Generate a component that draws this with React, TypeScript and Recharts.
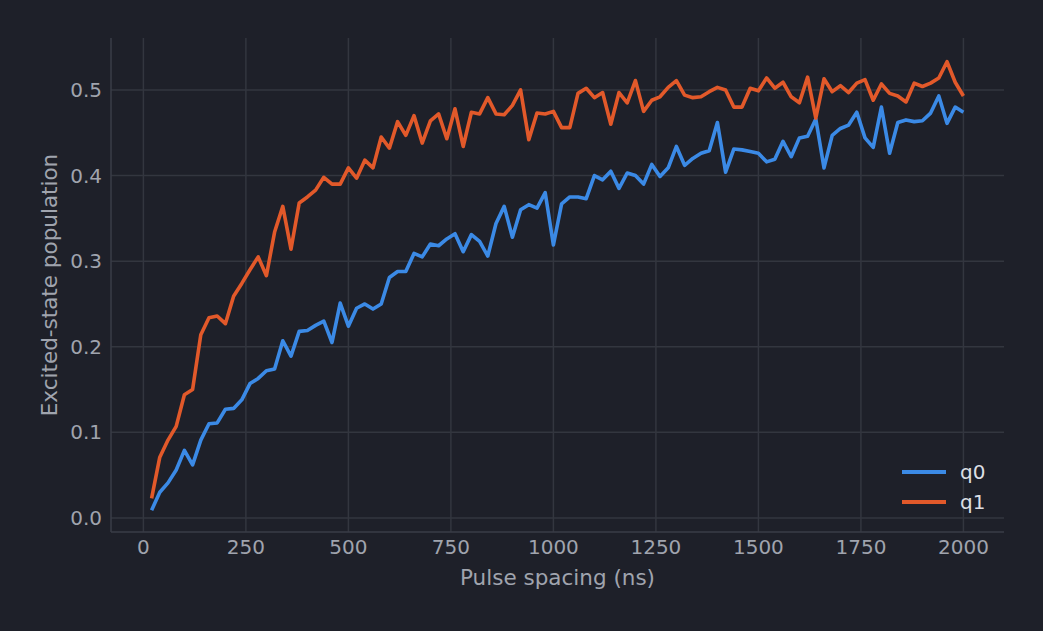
import React from 'react';
import { LineChart, Line, XAxis, YAxis, CartesianGrid, Legend, Label } from 'recharts';

const xValues = [
  20, 40, 60, 80, 100, 120, 140, 160, 180, 200,
  220, 240, 260, 280, 300, 320, 340, 360, 380, 400,
  420, 440, 460, 480, 500, 520, 540, 560, 580, 600,
  620, 640, 660, 680, 700, 720, 740, 760, 780, 800,
  820, 840, 860, 880, 900, 920, 940, 960, 980, 1000,
  1020, 1040, 1060, 1080, 1100, 1120, 1140, 1160, 1180, 1200,
  1220, 1240, 1260, 1280, 1300, 1320, 1340, 1360, 1380, 1400,
  1420, 1440, 1460, 1480, 1500, 1520, 1540, 1560, 1580, 1600,
  1620, 1640, 1660, 1680, 1700, 1720, 1740, 1760, 1780, 1800,
  1820, 1840, 1860, 1880, 1900, 1920, 1940, 1960, 1980, 2000,
];

const q0Values = [
  0.009, 0.030, 0.041, 0.056, 0.079, 0.062, 0.091, 0.110, 0.111, 0.127,
  0.128, 0.138, 0.157, 0.163, 0.172, 0.174, 0.207, 0.189, 0.218, 0.219,
  0.225, 0.230, 0.205, 0.251, 0.224, 0.245, 0.250, 0.244, 0.250, 0.281,
  0.288, 0.288, 0.309, 0.305, 0.320, 0.318, 0.326, 0.332, 0.311, 0.331,
  0.323, 0.306, 0.344, 0.364, 0.328, 0.360, 0.366, 0.362, 0.380, 0.319,
  0.367, 0.375, 0.375, 0.373, 0.400, 0.395, 0.405, 0.385, 0.403, 0.400,
  0.390, 0.413, 0.399, 0.409, 0.434, 0.412, 0.420, 0.426, 0.429, 0.462,
  0.404, 0.431, 0.430, 0.428, 0.426, 0.416, 0.419, 0.440, 0.422, 0.444,
  0.446, 0.466, 0.409, 0.447, 0.455, 0.459, 0.474, 0.444, 0.433, 0.480,
  0.426, 0.462, 0.465, 0.463, 0.464, 0.473, 0.493, 0.461, 0.480, 0.474,
];

const q1Values = [
  0.023, 0.071, 0.091, 0.107, 0.144, 0.150, 0.214, 0.234, 0.236, 0.227,
  0.259, 0.274, 0.290, 0.305, 0.283, 0.334, 0.364, 0.314, 0.368, 0.375,
  0.383, 0.398, 0.390, 0.390, 0.409, 0.397, 0.418, 0.409, 0.445, 0.432,
  0.463, 0.447, 0.470, 0.438, 0.464, 0.472, 0.443, 0.478, 0.434, 0.474,
  0.472, 0.491, 0.472, 0.471, 0.482, 0.500, 0.442, 0.473, 0.472, 0.475,
  0.456, 0.456, 0.496, 0.502, 0.491, 0.497, 0.460, 0.497, 0.485, 0.511,
  0.475, 0.488, 0.492, 0.503, 0.511, 0.494, 0.491, 0.492, 0.498, 0.503,
  0.500, 0.480, 0.480, 0.502, 0.499, 0.514, 0.502, 0.509, 0.492, 0.485,
  0.515, 0.467, 0.513, 0.498, 0.505, 0.497, 0.508, 0.512, 0.488, 0.507,
  0.496, 0.493, 0.486, 0.508, 0.504, 0.508, 0.514, 0.533, 0.509, 0.493,
];

const xTicks = [0, 250, 500, 750, 1000, 1250, 1500, 1750, 2000];
const yTicks = [0, 0.1, 0.2, 0.3, 0.4, 0.5];
const xDomain = [-79, 2099];
const yDomain = [-0.0164, 0.5607];

const seriesNames = ['q0', 'q1'];
const seriesColors = ['#3b8ae6', '#e2592a'];

const data = xValues.map((x, i) => ({ x, q0: q0Values[i], q1: q1Values[i] }));

const BG = '#1e2029';
const GRID = '#33363f';
const SPINE = '#3a3d47';
const TEXT = '#a0a4ae';
const FONT = '"DejaVu Sans", sans-serif';

const renderLegend = (props: any) => {
  const payload = props.payload || [];
  return (
    <div style={{ fontFamily: FONT }}>
      {payload.map((p: any) => (
        <div key={p.value} style={{ display: 'flex', alignItems: 'center', height: 30 }}>
          <div style={{ width: 44, height: 4, background: p.color, marginRight: 14 }} />
          <span style={{ color: '#dcdfe4', fontSize: 20, lineHeight: '30px' }}>{p.value}</span>
        </div>
      ))}
    </div>
  );
};

const applyScale = (scale: any, t: number): number | null => {
  if (!scale) return null;
  if (typeof scale === 'function') return scale(t);
  if (typeof scale.map === 'function') return scale.map(t);
  if (typeof scale.scale === 'function') return scale.scale(t);
  return null;
};

const hGen = (props: any) => {
  const off = props?.offset || {};
  return yTicks.map((t) => {
    const v = applyScale(props?.yAxis?.scale, t);
    if (typeof v === 'number' && !isNaN(v)) return v;
    return off.top + (off.height * (yDomain[1] - t)) / (yDomain[1] - yDomain[0]);
  });
};
const vGen = (props: any) => {
  const off = props?.offset || {};
  return xTicks.map((t) => {
    const v = applyScale(props?.xAxis?.scale, t);
    if (typeof v === 'number' && !isNaN(v)) return v;
    return off.left + (off.width * (t - xDomain[0])) / (xDomain[1] - xDomain[0]);
  });
};

export default function App() {
  return (
    <div style={{ position: 'fixed', left: 0, top: 0, width: 1043, height: 631, background: BG }}>
      <LineChart
        width={1043}
        height={631}
        data={data}
        margin={{ top: 38, right: 39, left: 0, bottom: 0 }}
        style={{ fontFamily: FONT }}
      >
        <CartesianGrid
          stroke={GRID}
          strokeWidth={1.5}
          horizontalCoordinatesGenerator={hGen}
          verticalCoordinatesGenerator={vGen}
        />
        <XAxis
          dataKey="x"
          type="number"
          domain={xDomain}
          ticks={xTicks}
          allowDataOverflow
          height={99}
          tickLine={false}
          tickSize={0}
          tickMargin={8}
          axisLine={{ stroke: SPINE, strokeWidth: 1.5 }}
          tick={{ fill: TEXT, fontSize: 20, fontFamily: FONT }}
          interval={0}
        >
          <Label
            value="Pulse spacing (ns)"
            position="center"
            dy={-4}
            style={{ fill: TEXT, fontSize: 21.5, fontFamily: FONT }}
          />
        </XAxis>
        <YAxis
          type="number"
          domain={yDomain}
          ticks={yTicks}
          allowDataOverflow
          width={111}
          tickLine={false}
          tickSize={0}
          tickMargin={9}
          axisLine={{ stroke: SPINE, strokeWidth: 1.5 }}
          tick={{ fill: TEXT, fontSize: 20, fontFamily: FONT }}
          tickFormatter={(v: number) => v.toFixed(1)}
          interval={0}
        >
          <Label
            value="Excited-state population"
            position="center"
            angle={-90}
            dx={-6}
            style={{ fill: TEXT, fontSize: 21.5, fontFamily: FONT, textAnchor: 'middle' }}
          />
        </YAxis>
        <Legend
          layout="horizontal"
          verticalAlign="middle"
          align="center"
          wrapperStyle={{ left: 902, top: 457, width: 'auto' }}
          content={renderLegend}
        />
        <Line
          type="linear"
          dataKey="q0"
          name={seriesNames[0]}
          stroke={seriesColors[0]}
          strokeWidth={3.6}
          dot={false}
          activeDot={false}
          strokeLinejoin="round"
          isAnimationActive={false}
        />
        <Line
          type="linear"
          dataKey="q1"
          name={seriesNames[1]}
          stroke={seriesColors[1]}
          strokeWidth={3.6}
          dot={false}
          activeDot={false}
          strokeLinejoin="round"
          isAnimationActive={false}
        />
      </LineChart>
    </div>
  );
}
